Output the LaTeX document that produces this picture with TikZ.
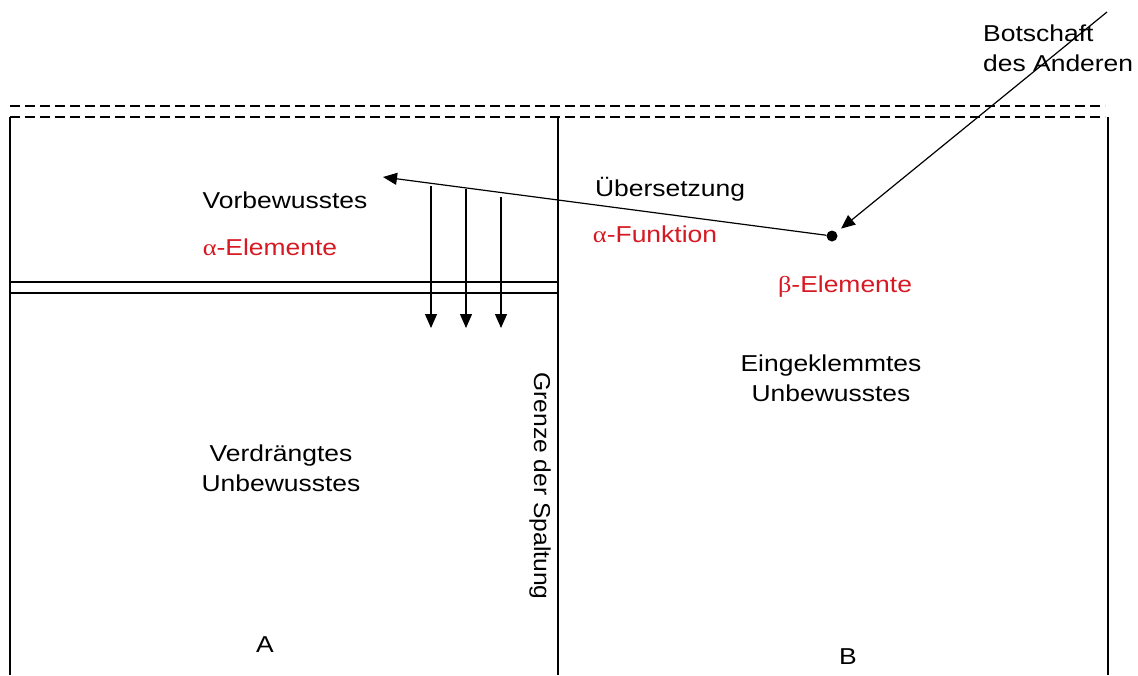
\documentclass[tikz,border=0pt]{standalone}
\usepackage{fontspec}
\setmainfont{Liberation Sans}[FakeStretch=1.15]
\newfontfamily\grk{Liberation Serif}[FakeStretch=1.15]
\newfontfamily\rotfont{Liberation Sans}[FakeStretch=1.07]
\usetikzlibrary{arrows.meta}
\definecolor{lblred}{RGB}{215,25,35}
\begin{document}
\begin{tikzpicture}[x=1pt,y=-1pt,
  txt/.style={font=\fontsize{23}{30}\selectfont, inner sep=0pt, anchor=base},
  blocktxt/.style={font=\fontsize{23}{30}\selectfont, inner sep=0pt, align=center, anchor=north},
  redtxt/.style={txt, text=lblred},
  frame/.style={line width=1.2pt},
  dashline/.style={line width=1.2pt, dash pattern=on 10pt off 5pt},
  arr/.style={line width=1.2pt, -{Triangle[length=14pt,width=12pt]}}]
\useasboundingbox (0,0) rectangle (1138,675);
% dashed border
\draw[dashline] (10,106) -- (1105,106);
\draw[dashline] (10,117) -- (1105,117);
% frames
\draw[frame] (10,117) -- (10,675);
\draw[frame] (558,117) -- (558,675);
\draw[frame] (1108,117) -- (1108,675);
\draw[frame] (10,282) -- (558,282);
\draw[frame] (10,293) -- (558,293);
% dot and arrows
\node[circle, fill, inner sep=0pt, minimum size=11pt] (dot) at (832,236) {};
\coordinate (tip) at (383,177);
\coordinate (msg) at (1107,12);
\draw[arr] (dot) -- (tip);
\draw[arr, shorten >=6pt] (msg) -- (dot);
\coordinate (d1s) at (431,186); \coordinate (d1e) at (431,328);
\coordinate (d2s) at (466,189); \coordinate (d2e) at (466,328);
\coordinate (d3s) at (501,197); \coordinate (d3e) at (501,328);
\draw[arr] (d1s) -- (d1e);
\draw[arr] (d2s) -- (d2e);
\draw[arr] (d3s) -- (d3e);
% texts
\node[font=\fontsize{23}{30}\selectfont, inner sep=0pt, align=left, anchor=north west] (bot) at (983,25) {Botschaft\\des Anderen};
\node[txt] (vor) at (285,208) {Vorbewusstes};
\node[redtxt] (ael) at (270,255) {{\grk α}-Elemente};
\node[txt] (ueb) at (670,196) {Übersetzung};
\node[redtxt] (afk) at (655,242) {{\grk α}-Funktion};
\node[redtxt] (bel) at (845,292) {{\grk β}-Elemente};
\node[blocktxt] (ein) at (831,355) {Eingeklemmtes\\Unbewusstes};
\node[blocktxt] (ver) at (281,445) {Verdrängtes\\Unbewusstes};
\node[font=\rotfont\fontsize{23}{30}\selectfont, inner sep=0pt, rotate=-90] (gre) at (540,486) {Grenze der Spaltung};
\node[txt] (a) at (265,652) {A};
\node[txt] (b) at (848,664) {B};
\end{tikzpicture}
\end{document}
